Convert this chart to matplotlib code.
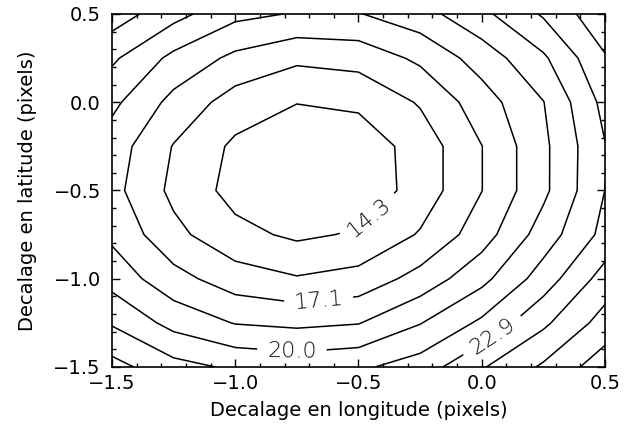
import numpy as np
import matplotlib.pyplot as plt
from matplotlib.ticker import MultipleLocator, FuncFormatter

# grid of offsets (pixels)
x_offsets = [-1.5, -1.25, -1.0, -0.75, -0.5, -0.25, 0.0, 0.25, 0.5]
y_offsets = [-1.5, -1.25, -1.0, -0.75, -0.5, -0.25, 0.0, 0.25, 0.5]

# values on the grid, one row per latitude offset (bottom row first)
row_m150 = [23.36, 21.93, 21.19, 20.90, 21.18, 22.10, 24.15, 25.93, 27.96]
row_m125 = [21.28, 19.52, 18.50, 18.25, 18.50, 19.93, 21.70, 24.00, 26.30]
row_m100 = [19.45, 17.65, 16.38, 15.83, 16.23, 17.67, 19.58, 22.10, 24.90]
row_m075 = [18.27, 16.10, 14.71, 14.02, 14.45, 15.84, 17.90, 20.66, 23.29]
row_m050 = [17.60, 15.37, 13.79, 12.95, 13.30, 14.88, 17.12, 19.68, 22.87]
row_m025 = [17.87, 15.64, 14.01, 13.20, 13.44, 14.88, 17.12, 19.68, 22.80]
row_p000 = [18.91, 16.71, 15.08, 14.33, 14.56, 15.85, 17.90, 19.96, 23.30]
row_p025 = [20.25, 18.20, 16.80, 16.00, 16.25, 17.43, 19.20, 21.20, 24.15]
row_p050 = [22.19, 20.49, 18.95, 18.46, 18.50, 19.44, 21.07, 23.03, 25.37]

# contour levels, every other one carries a label
plain_levels = [12.857, 15.714, 18.571, 21.429, 24.286, 27.143]
labelled = [14.286, 17.143, 20.0, 22.857, 25.714, 28.571]
label_spots = [(-0.43, -0.69), (-0.66, -1.15), (-0.77, -1.415), (0.07, -1.38)]

z = np.array([row_m150, row_m125, row_m100, row_m075, row_m050,
              row_m025, row_p000, row_p025, row_p050])

fig = plt.figure(figsize=(6.28, 4.32), dpi=100)
ax = fig.add_axes([0.1783, 0.1505, 0.7851, 0.8171])

ax.contour(x_offsets, y_offsets, z, levels=plain_levels, colors='black',
           linewidths=1.1)
cs = ax.contour(x_offsets, y_offsets, z, levels=labelled, colors='black',
                linewidths=1.1)
lab = ax.clabel(cs, fmt='%.1f', fontsize=16, colors='#111111',
                inline=True, inline_spacing=10, manual=label_spots)
for t in lab:
    t.set_fontweight('light')

ax.set_xlim(-1.5, 0.5)
ax.set_ylim(-1.5, 0.5)

def minus_fmt(v, pos):
    s = '%.1f' % v
    if s == '-0.0':
        s = '0.0'
    return s.replace('-', '\u2212')

for axis in (ax.xaxis, ax.yaxis):
    axis.set_major_locator(MultipleLocator(0.5))
    axis.set_minor_locator(MultipleLocator(0.1))
    axis.set_major_formatter(FuncFormatter(minus_fmt))

ax.tick_params(which='both', direction='in', top=True, right=True,
               width=1.0, labelsize=14)
ax.tick_params(which='major', length=6)
ax.tick_params(which='minor', length=3)
ax.tick_params(axis='x', pad=5)
ax.tick_params(axis='y', pad=8)
for sp in ax.spines.values():
    sp.set_linewidth(1.2)

ax.set_xlabel('Decalage en longitude (pixels)', fontsize=14, labelpad=6)
ax.set_ylabel('Decalage en latitude (pixels)', fontsize=14, labelpad=12)

fig.savefig('out.png', dpi=100)
